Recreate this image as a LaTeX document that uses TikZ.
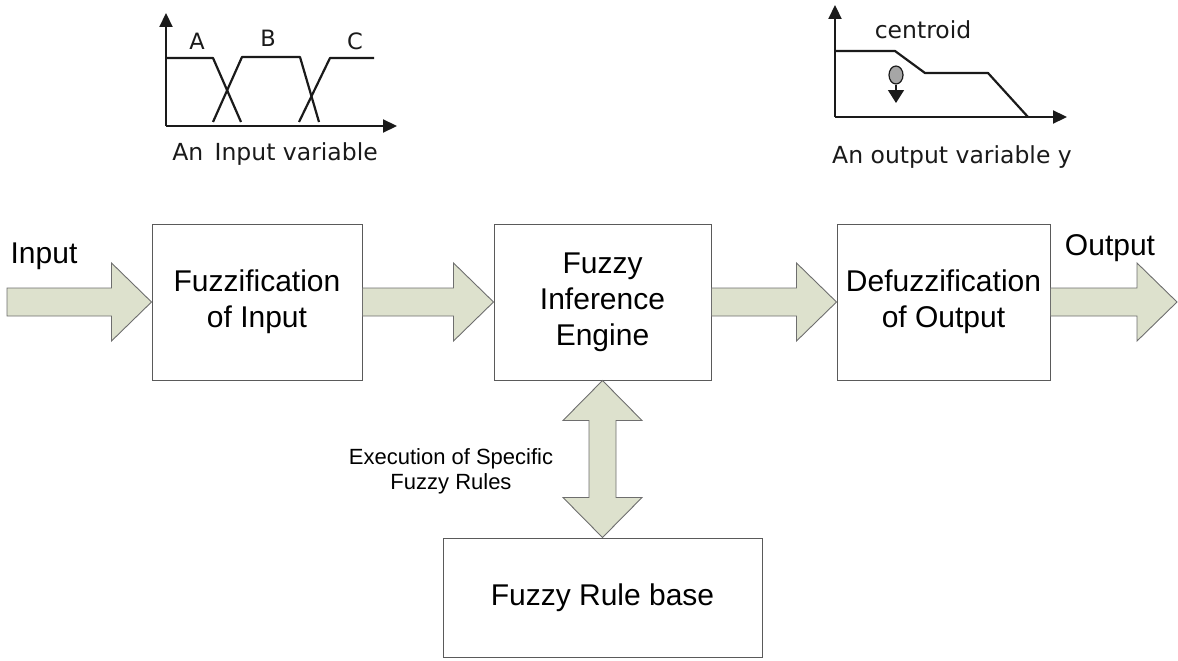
\documentclass[tikz,border=0pt]{standalone}
\usepackage{fontspec}
\setmainfont{Liberation Sans}
\newfontfamily\plotfont{DejaVu Sans}
\usetikzlibrary{calc,arrows.meta,shapes.geometric}
\definecolor{arrowfill}{HTML}{DDE1CD}
\definecolor{arrowline}{HTML}{6E6E6E}
\definecolor{boxline}{HTML}{5A5A5A}
\definecolor{ink}{HTML}{1A1A1A}
\tikzset{
  stage/.style={draw=boxline, line width=1pt, fill=white, align=center,
    font=\fontsize{30}{36}\selectfont, inner sep=0pt},
  % horizontal block arrow drawn between two points
  blockarrow/.style={fill=arrowfill, draw=arrowline, line width=0.9pt, line join=miter,
    to path={let \p1=(\tikztostart), \p2=(\tikztotarget) in
      (\x1,\y1+14pt) -- (\x2-40pt,\y1+14pt) -- (\x2-40pt,\y1+39pt) -- (\x2,\y1)
      -- (\x2-40pt,\y1-39pt) -- (\x2-40pt,\y1-14pt) -- (\x1,\y1-14pt) -- cycle}},
  % vertical two-headed block arrow
  dblarrow/.style={fill=arrowfill, draw=arrowline, line width=0.9pt, line join=miter,
    to path={let \p1=(\tikztostart), \p2=(\tikztotarget) in
      (\x1,\y1) -- (\x1+39.5pt,\y1-40pt) -- (\x1+13.5pt,\y1-40pt) -- (\x1+13.5pt,\y2+40pt)
      -- (\x1+39.5pt,\y2+40pt) -- (\x2,\y2) -- (\x1-39.5pt,\y2+40pt) -- (\x1-13.5pt,\y2+40pt)
      -- (\x1-13.5pt,\y1-40pt) -- (\x1-39.5pt,\y1-40pt) -- cycle}},
  axis/.style={draw=ink, line width=2.2pt, -{Triangle[length=14pt,width=13pt]}},
  curve/.style={draw=ink, line width=2.2pt, line join=round},
  plotlabel/.style={anchor=base, font=\plotfont\fontsize{23.5}{28}\selectfont, text=ink, inner sep=0pt},
  setlabel/.style={anchor=base, font=\plotfont\fontsize{22.5}{27}\selectfont, text=ink, inner sep=0pt},
  sidelabel/.style={anchor=base, font=\fontsize{30}{36}\selectfont, inner sep=0pt}
}
\begin{document}
\begin{tikzpicture}[x=1pt, y=-1pt]
\useasboundingbox (0,0) rectangle (1178,661);

% processing stages
\node[stage, minimum width=210pt, minimum height=156pt] (fuz) at (257,302) {Fuzzification\\of Input};
\node[stage, minimum width=217pt, minimum height=156pt] (inf) at (602.5,302) {Fuzzy\\Inference\\Engine};
\node[stage, minimum width=213pt, minimum height=156pt] (def) at (943.5,302) {Defuzzification\\of Output};
\node[stage, minimum width=319pt, minimum height=119pt] (rules) at (602.5,597.5) {Fuzzy Rule base};

% free ends of the input and output arrows
\coordinate (in) at (7,302);
\coordinate (out) at (1177,302);

% block arrows
\draw[blockarrow] (in) to (fuz.west);
\draw[blockarrow] (fuz.east) to (inf.west);
\draw[blockarrow] (inf.east) to (def.west);
\draw[blockarrow] (def.east) to (out);
\draw[dblarrow] (inf.south) to (rules.north);

\node[sidelabel] (inlab) at (44,263) {Input};
\node[sidelabel] (outlab) at (1110,255) {Output};
\node[align=center, font=\fontsize{22}{25}\selectfont, inner sep=0pt] (exec) at (451,471)
  {Execution of Specific\\Fuzzy Rules};

% input variable with sets A, B, C
\coordinate (io) at (166,126);
\draw[axis] (io) -- (166,13);
\draw[axis] (io) -- (397,126);
\draw[curve] (166,58) -- (213,58) -- (241,122);
\draw[curve] (213,122) -- (242,57) -- (300,57) -- (319,122);
\draw[curve] (299,122) -- (330,58) -- (374,58);
\node[setlabel] (la) at (197,49) {A};
\node[setlabel] (lb) at (268,47) {B};
\node[setlabel] (lc) at (355,49) {C};
\node[plotlabel] (inname) at (275,160) {An\,\ Input variable};

% output variable with centroid marker
\coordinate (oo) at (835,117);
\draw[axis] (oo) -- (835,5);
\draw[axis] (oo) -- (1067,117);
\draw[curve] (835,51) -- (895,51) -- (925,73) -- (988,73) -- (1028,117);
\node[draw=ink, line width=1.2pt, fill=gray!70, ellipse, minimum width=14pt, minimum height=18pt, inner sep=0pt] (cen) at (896,75) {};
\coordinate (cenfoot) at (896,103);
\draw[draw=ink, line width=1.5pt, -{Triangle[length=13pt,width=16pt]}] (cen.south) -- (cenfoot);
\node[plotlabel] (cenlab) at (923,39) {centroid};
\node[plotlabel] (outname) at (952,163) {An output variable y};
\end{tikzpicture}
\end{document}
